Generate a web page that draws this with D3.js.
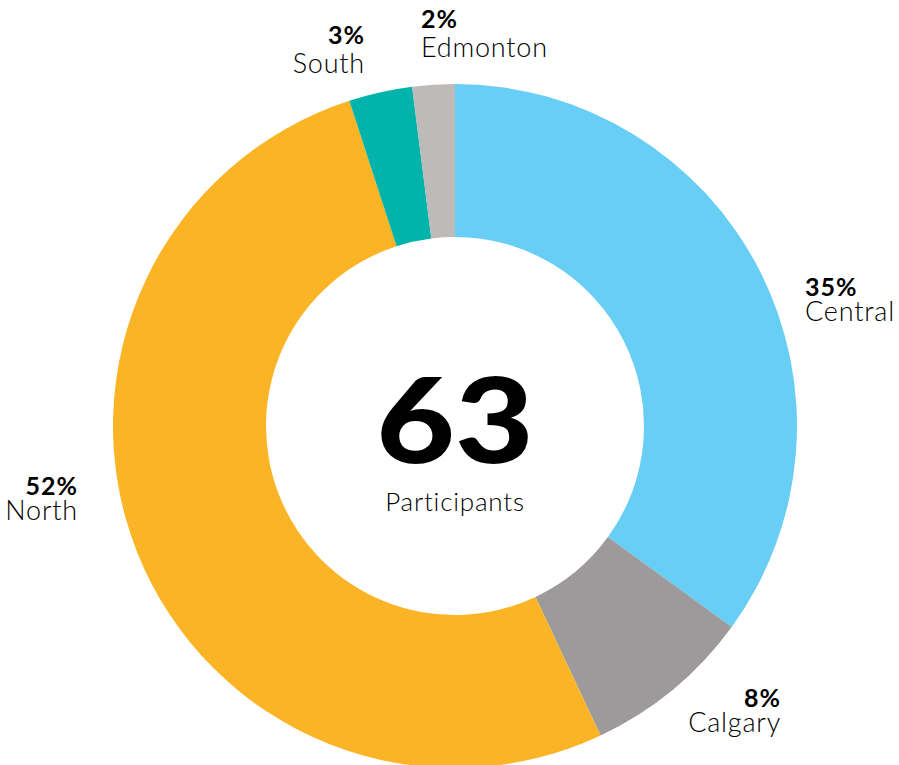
<!DOCTYPE html>
<html>
<head>
<meta charset="utf-8">
<script src="https://cdn.jsdelivr.net/npm/d3@7"></script>
<style>
  html, body { margin: 0; padding: 0; background: #ffffff; }
  svg { display: block; }
  text { font-family: Lato, "Open Sans", sans-serif; fill: #000; }
</style>
</head>
<body>
<div id="chart"></div>
<script>
// ---- Data ----
const categories = ["Central", "Calgary", "North", "South", "Edmonton"];
const percents   = [35, 8, 52, 3, 2];
const colors     = ["#68CEF5", "#9C9A9B", "#FBB426", "#00B4AB", "#BEBAB8"];
const totalParticipants = 63;
const centerLabel = "Participants";

// ---- Layout ----
const width = 899, height = 765;
const cx = 455, cy = 426;
const outerR = 342, innerR = 189;

// label placement (x, pct baseline, name baseline, anchor)
const labelLayout = {
  "Central":  { x: 805, y1: 296, y2: 321, anchor: "start" },
  "Calgary":  { x: 781, y1: 707, y2: 732, anchor: "end" },
  "North":    { x: 78,  y1: 495, y2: 520, anchor: "end" },
  "South":    { x: 365, y1: 44,  y2: 73,  anchor: "end" },
  "Edmonton": { x: 421, y1: 28,  y2: 57,  anchor: "start" }
};

const svg = d3.select("#chart").append("svg")
  .attr("width", width).attr("height", height);

const data = categories.map((c, i) => ({ name: c, value: percents[i], color: colors[i] }));

const pie = d3.pie().value(d => d.value).sort(null);
const arc = d3.arc().innerRadius(innerR).outerRadius(outerR);

const g = svg.append("g").attr("transform", `translate(${cx},${cy})`);
g.selectAll("path.slice")
  .data(pie(data))
  .join("path")
  .attr("class", "slice")
  .attr("d", arc)
  .attr("fill", d => d.data.color);

// centre text
g.append("text")
  .attr("x", 0).attr("y", 37)
  .attr("text-anchor", "middle")
  .attr("transform", "scale(1.15,1)")
  .style("font-size", "118px")
  .style("font-weight", 900)
  .style("fill", "#000")
  .text(totalParticipants);

g.append("text")
  .attr("x", 0).attr("y", 85)
  .attr("text-anchor", "middle")
  .style("font-size", "26px")
  .style("font-weight", 300)
  .style("letter-spacing", "0.8px")
  .style("fill", "#000")
  .text(centerLabel);

// slice labels
const lab = svg.selectAll("g.label")
  .data(data)
  .join("g")
  .attr("class", "label");

lab.append("text")
  .attr("x", d => labelLayout[d.name].x)
  .attr("y", d => labelLayout[d.name].y1)
  .attr("text-anchor", d => labelLayout[d.name].anchor)
  .style("font-size", "25px")
  .style("font-weight", 700)
  .style("letter-spacing", "1px")
  .style("fill", "#000")
  .text(d => d.value + "%");

lab.append("text")
  .attr("x", d => labelLayout[d.name].x)
  .attr("y", d => labelLayout[d.name].y2)
  .attr("text-anchor", d => labelLayout[d.name].anchor)
  .style("font-size", "27px")
  .style("font-weight", 300)
  .style("letter-spacing", "0.8px")
  .style("fill", "#000")
  .text(d => d.name);
</script>
</body>
</html>
